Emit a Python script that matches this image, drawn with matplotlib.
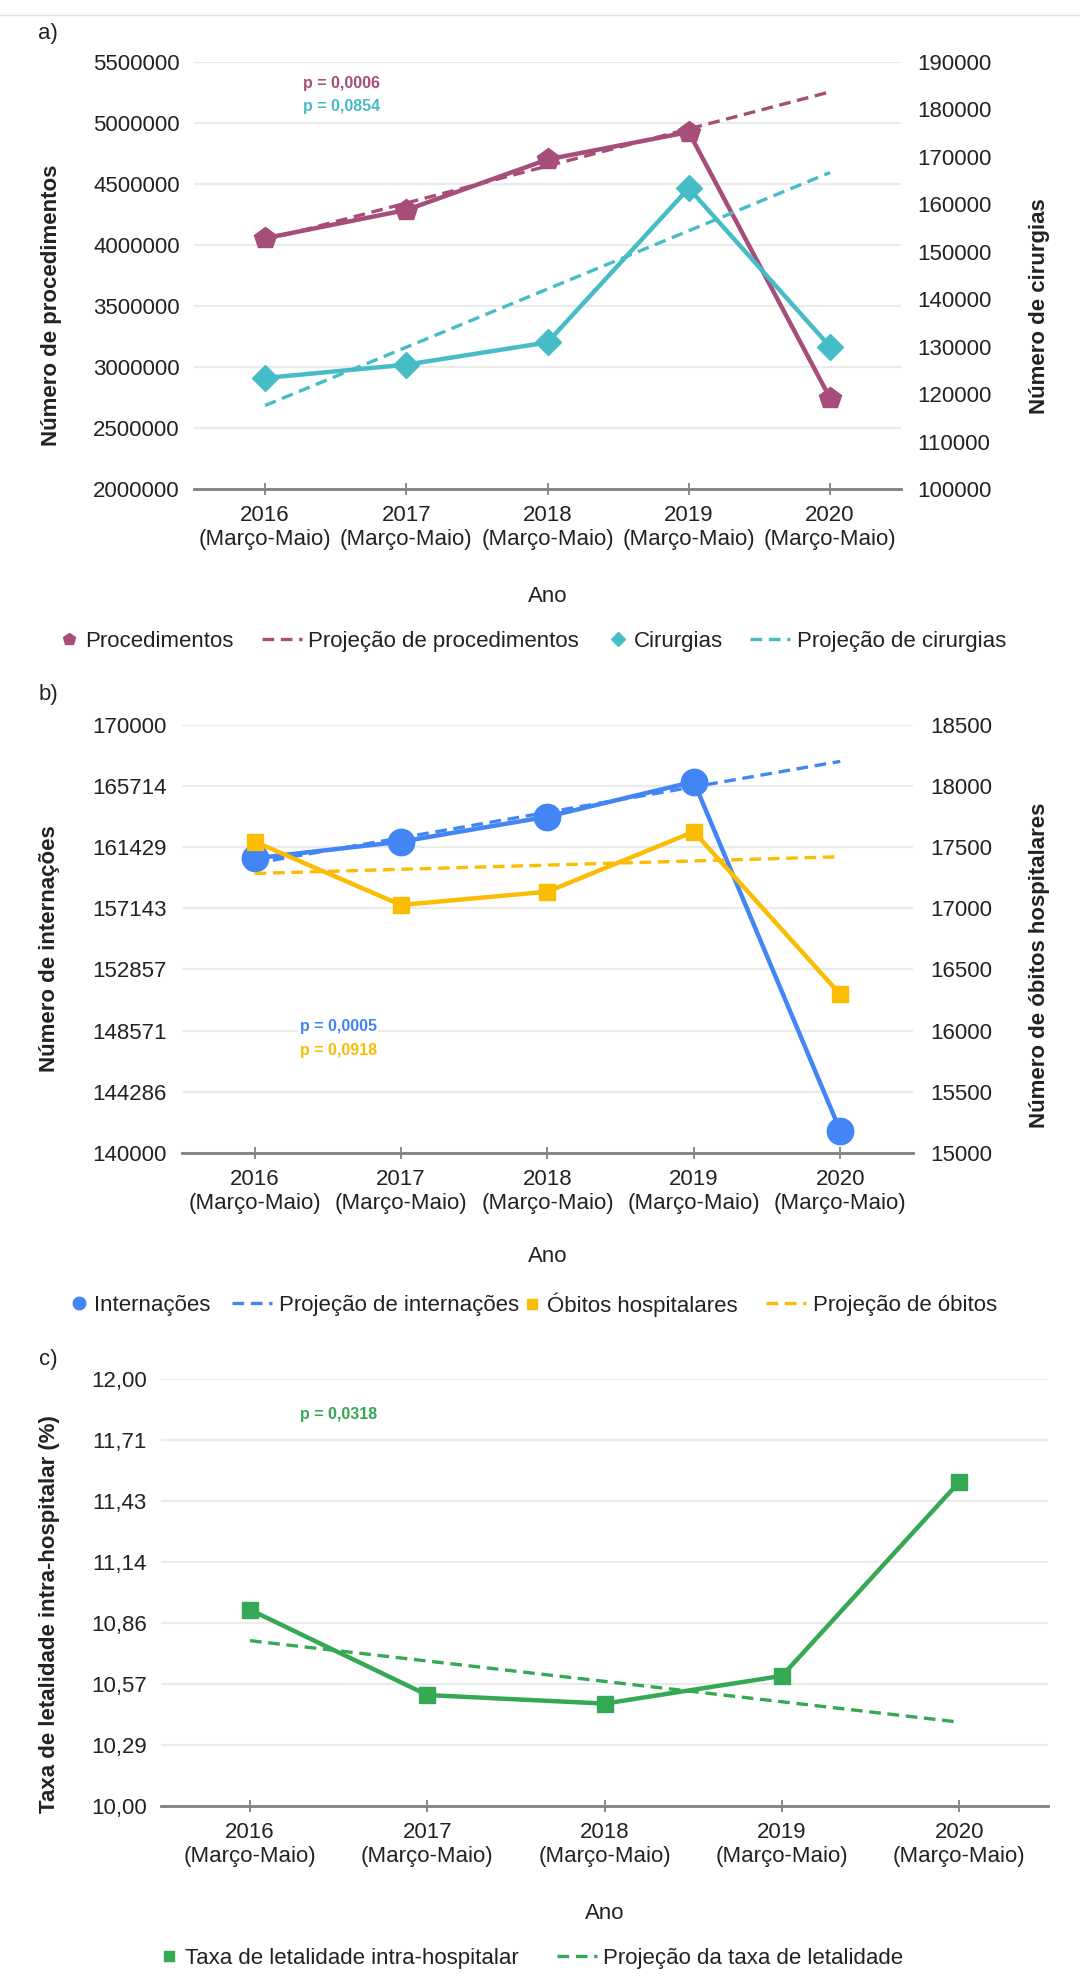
import matplotlib
matplotlib.use('Agg')
import matplotlib.pyplot as plt
from matplotlib.lines import Line2D
from matplotlib.legend_handler import HandlerLine2D

plt.rcParams['font.family'] = ['Liberation Sans', 'DejaVu Sans']

W, H = 1080, 1987

# dados
anos = ['2016', '2017', '2018', '2019', '2020']
periodo = '(Março-Maio)'
x_proj = [0, 4]  # projecoes: reta de 2016 ate 2020

procedimentos = [4055000, 4287000, 4701000, 4926000, 2746000]
proj_procedimentos = [4040000, 5255000]
cirurgias = [123400, 126200, 130900, 163400, 130000]
proj_cirurgias = [117600, 166700]

internacoes = [160650, 161815, 163570, 166025, 141545]
proj_internacoes = [160300, 167450]
obitos = [17545, 17027, 17136, 17627, 16296]
proj_obitos = [17285, 17422]

letalidade = [10.92, 10.52, 10.48, 10.61, 11.52]
proj_letalidade = [10.775, 10.393]

ticks_proc = [2000000, 2500000, 3000000, 3500000, 4000000, 4500000, 5000000, 5500000]
ticks_cir = [100000, 110000, 120000, 130000, 140000, 150000, 160000, 170000, 180000, 190000]
ticks_int = [140000, 144286, 148571, 152857, 157143, 161429, 165714, 170000]
ticks_obi = [15000, 15500, 16000, 16500, 17000, 17500, 18000, 18500]
ticks_let = [10.0, 10.2857, 10.5714, 10.8571, 11.1429, 11.4286, 11.7143, 12.0]
labels_let = ['10,00', '10,29', '10,57', '10,86', '11,14', '11,43', '11,71', '12,00']

c_proc = '#a64d79'
c_cir = '#46bdc6'
c_int = '#4285f4'
c_obi = '#fbbc04'
c_let = '#34a853'
txt = '#222222'


def rect(l, t, r, b):
    return [l / W, 1 - b / H, (r - l) / W, (b - t) / H]


def fpos(x, y):
    return x / W, 1 - y / H


class MarcadorDireita(HandlerLine2D):
    # marcador encostado no texto, como no grafico original
    def get_xdata(self, legend, xdescent, ydescent, width, height, fontsize):
        x0 = -xdescent + width - 0.4 * fontsize
        return [x0 - 0.1, x0 + 0.1], [x0]


def legenda(fig, itens, y):
    # itens: (handle, texto, x onde o texto comeca em px)
    for hnd, lab, xt in itens:
        fig.legend([hnd], [lab], loc='center left', bbox_to_anchor=fpos(xt - 46.7, y),
                   frameon=False, fontsize=16, handlelength=1.8, handletextpad=0.3,
                   borderpad=0, borderaxespad=0, labelcolor=txt,
                   handler_map={hnd: MarcadorDireita()} if hnd.get_linestyle() == 'None' else None)


def style(ax):
    for s in ['top', 'left', 'right']:
        ax.spines[s].set_visible(False)
    ax.spines['bottom'].set_color('#808080')
    ax.spines['bottom'].set_linewidth(2)
    ax.set_axisbelow(True)
    ax.grid(axis='y', color='#ebebeb', lw=1.6)
    ax.set_xlim(-0.5, 4.5)
    ax.set_xticks(range(len(anos)))
    ax.set_xticklabels([a + '\n' + periodo for a in anos], linespacing=1.2)
    ax.tick_params(axis='x', direction='inout', length=9, width=1.3, color='#808080',
                   labelsize=16, labelcolor=txt, pad=7)
    ax.tick_params(axis='y', length=0, pad=10.5, labelsize=16, labelcolor=txt)


def style_right(ax2):
    for s in ax2.spines.values():
        s.set_visible(False)
    ax2.tick_params(axis='y', length=0, pad=12, labelsize=16, labelcolor=txt)


x = range(len(anos))
dash = dict(ls='--', dashes=(3.5, 2), lw=2.4)

fig = plt.figure(figsize=(W / 100, H / 100), dpi=100)
fig.add_artist(Line2D([0, 1], [1 - 15 / H] * 2, transform=fig.transFigure, color='#e3e3e3', lw=1))

# ---- a) ----
ax = fig.add_axes(rect(194.4, 62, 900.6, 489))
style(ax)
ax.set_ylim(2000000, 5500000)
ax.set_yticks(ticks_proc)
ax.set_yticklabels([str(t) for t in ticks_proc])
ax.plot(x_proj, proj_procedimentos, color=c_proc, zorder=2, **dash)
ax.plot(x, procedimentos, color=c_proc, lw=3.2, marker='p', ms=16, zorder=3, clip_on=False)
ax2 = ax.twinx()
style_right(ax2)
ax2.set_ylim(100000, 190000)
ax2.set_yticks(ticks_cir)
ax2.set_yticklabels([str(t) for t in ticks_cir])
ax2.plot(x_proj, proj_cirurgias, color=c_cir, zorder=2, **dash)
ax2.plot(x, cirurgias, color=c_cir, lw=3.2, marker='D', ms=13, zorder=3, clip_on=False)

fig.text(*fpos(48, 33), 'a)', ha='center', va='center', fontsize=16, color=txt)
fig.text(*fpos(52, 305), 'Número de procedimentos', rotation=90, ha='center', va='center',
         fontsize=16, fontweight='bold', color=txt)
fig.text(*fpos(1040, 306), 'Número de cirurgias', rotation=90, ha='center', va='center',
         fontsize=16, fontweight='bold', color=txt)
fig.text(*fpos(547.5, 596.7), 'Ano', ha='center', va='center', fontsize=16, color=txt)
fig.text(*fpos(303, 83.3), 'p = 0,0006', ha='left', va='center', fontsize=11.5,
         fontweight='bold', color=c_proc)
fig.text(*fpos(303, 106.7), 'p = 0,0854', ha='left', va='center', fontsize=11.5,
         fontweight='bold', color=c_cir)

legenda(fig, [(Line2D([], [], ls='none', marker='p', ms=9, color=c_proc), 'Procedimentos', 84.7),
              (Line2D([], [], color=c_proc, **dash), 'Projeção de procedimentos', 308.5),
              (Line2D([], [], ls='none', marker='D', ms=7, color=c_cir), 'Cirurgias', 633.6),
              (Line2D([], [], color=c_cir, **dash), 'Projeção de cirurgias', 797)], 641.7)

# ---- b) ----
bx = fig.add_axes(rect(181.5, 725, 913.4, 1152.7))
style(bx)
bx.set_ylim(140000, 170000)
bx.set_yticks([140000 + i * 30000 / 7 for i in range(8)])
bx.set_yticklabels([str(t) for t in ticks_int])
bx.plot(x_proj, proj_internacoes, color=c_int, zorder=2, **dash)
bx.plot(x, internacoes, color=c_int, lw=3.2, marker='o', ms=19, zorder=3, clip_on=False)
bx2 = bx.twinx()
style_right(bx2)
bx2.set_ylim(15000, 18500)
bx2.set_yticks(ticks_obi)
bx2.set_yticklabels([str(t) for t in ticks_obi])
bx2.plot(x_proj, proj_obitos, color=c_obi, zorder=2, **dash)
bx2.plot(x, obitos, color=c_obi, lw=3.2, marker='s', ms=12, zorder=3, clip_on=False)

fig.text(*fpos(48, 695), 'b)', ha='center', va='center', fontsize=16, color=txt)
fig.text(*fpos(50, 949), 'Número de internações', rotation=90, ha='center', va='center',
         fontsize=16, fontweight='bold', color=txt)
fig.text(*fpos(1040, 965), 'Número de óbitos hospitalares', rotation=90, ha='center', va='center',
         fontsize=16, fontweight='bold', color=txt)
fig.text(*fpos(547.5, 1256.7), 'Ano', ha='center', va='center', fontsize=16, color=txt)
box = dict(facecolor='white', edgecolor='none', pad=1)
fig.text(*fpos(299.6, 1027), 'p = 0,0005', ha='left', va='center', fontsize=11.5,
         fontweight='bold', color=c_int, bbox=box)
fig.text(*fpos(299.6, 1050), 'p = 0,0918', ha='left', va='center', fontsize=11.5,
         fontweight='bold', color=c_obi, bbox=box)

legenda(fig, [(Line2D([], [], ls='none', marker='o', ms=9, color=c_int), 'Internações', 94.4),
              (Line2D([], [], color=c_int, **dash), 'Projeção de internações', 279),
              (Line2D([], [], ls='none', marker='s', ms=7, color=c_obi), 'Óbitos hospitalares', 547.5),
              (Line2D([], [], color=c_obi, **dash), 'Projeção de óbitos', 812.7)], 1305)

# ---- c) ----
cx = fig.add_axes(rect(161.3, 1379.3, 1048.1, 1806))
style(cx)
cx.set_ylim(10, 12)
cx.set_yticks(ticks_let)
cx.set_yticklabels(labels_let)
cx.plot(x_proj, proj_letalidade, color=c_let, zorder=2, **dash)
cx.plot(x, letalidade, color=c_let, lw=3.2, marker='s', ms=12, zorder=3, clip_on=False)

fig.text(*fpos(48, 1360), 'c)', ha='center', va='center', fontsize=16, color=txt)
fig.text(*fpos(50, 1614), 'Taxa de letalidade intra-hospitalar (%)', rotation=90, ha='center',
         va='center', fontsize=16, fontweight='bold', color=txt)
fig.text(*fpos(604.7, 1913.3), 'Ano', ha='center', va='center', fontsize=16, color=txt)
fig.text(*fpos(299.6, 1414), 'p = 0,0318', ha='left', va='center', fontsize=11.5,
         fontweight='bold', color=c_let)

legenda(fig, [(Line2D([], [], ls='none', marker='s', ms=7, color=c_let),
               'Taxa de letalidade intra-hospitalar', 184.6),
              (Line2D([], [], color=c_let, **dash), 'Projeção da taxa de letalidade', 603.3)], 1958.3)

fig.savefig('out.png', dpi=100, facecolor='white')
